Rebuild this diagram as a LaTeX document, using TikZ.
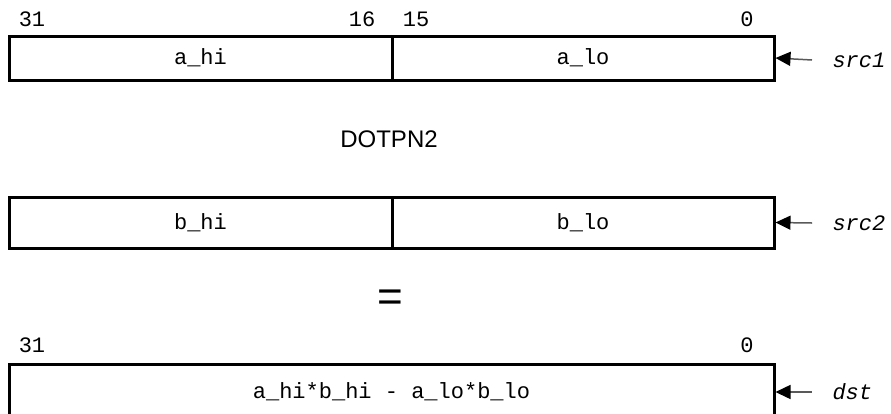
\documentclass[tikz,border=0pt]{standalone}
\usepackage{fontspec}
\setmainfont{Liberation Sans}
\setmonofont{Liberation Mono}
\usetikzlibrary{arrows.meta, positioning}

\tikzset{
  field/.style={draw, line width=3pt, inner sep=0pt, font=\fontsize{22}{25}\selectfont\ttfamily},
  bitnum/.style={font=\fontsize{22}{25}\selectfont\ttfamily},
  regname/.style={anchor=west, font=\fontsize{22}{25}\selectfont\ttfamily\itshape},
  feed/.style={line width=1.5pt, black!65, {Triangle[length=15pt, width=14pt, black]}-}
}

\begin{document}
\begin{tikzpicture}[x=1pt, y=-1pt]
  \path[use as bounding box, clip] (0,0) rectangle (891,413);

  % src1
  \node[field, minimum width=383pt, minimum height=44pt] (ahi) at (200.5,58) {a\_hi};
  \node[field, minimum width=382pt, minimum height=44pt] (alo) at (583,58) {a\_lo};
  \node[bitnum] (b31) at (32,19) {31};
  \node[bitnum] (b16) at (362,19) {16};
  \node[bitnum] (b15) at (416,19) {15};
  \node[bitnum] (b0) at (747,19) {0};
  \node[regname] (src1) at (829,60) {src1};
  \draw[feed] (alo.east) -- ([xshift=-17pt]src1.west);

  \node[font=\fontsize{24}{28}\selectfont] (op) at (389,139) {DOTPN2};

  % src2
  \node[field, minimum width=383pt, minimum height=51pt] (bhi) at (200.5,222.5) {b\_hi};
  \node[field, minimum width=382pt, minimum height=51pt] (blo) at (583,222.5) {b\_lo};
  \node[regname] (src2) at (829,223) {src2};
  \draw[feed] (blo.east) -- ([xshift=-17pt]src2.west);

  \node[font=\fontsize{44}{48}\selectfont] (eq) at (390,301) {=};

  % dst
  \node[field, minimum width=765pt, minimum height=56pt] (res) at (391.5,392) {a\_hi*b\_hi - a\_lo*b\_lo};
  \node[bitnum] (r31) at (32,345) {31};
  \node[bitnum] (r0) at (747,345) {0};
  \node[regname] (dst) at (829,392) {dst};
  \draw[feed] (res.east) -- ([xshift=-17pt]dst.west);
\end{tikzpicture}
\end{document}
